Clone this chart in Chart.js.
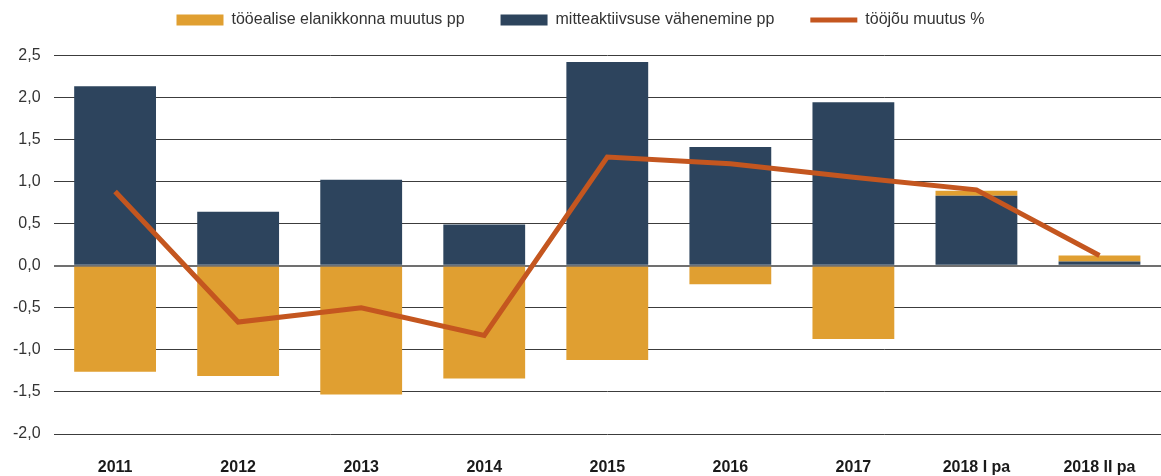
<!DOCTYPE html>
<html>
<head>
<meta charset="utf-8">
<script src="https://cdn.jsdelivr.net/npm/chart.js@4"></script>
<style>
  html, body { margin: 0; padding: 0; background: #fff; overflow: hidden; }
  canvas { display: block; }
</style>
</head>
<body>
<canvas id="chart" width="1161" height="476"></canvas>
<script>
// --- Andmed ---
const categories = ['2011', '2012', '2013', '2014', '2015', '2016', '2017', '2018 I pa', '2018 II pa'];
const workingAgeChange = [-1.26, -1.31, -1.53, -1.34, -1.12, -0.22, -0.87, 0.06, 0.07];
const inactivityDecrease = [2.13, 0.64, 1.02, 0.49, 2.42, 1.41, 1.94, 0.83, 0.05];
const laborForceChange = [0.88, -0.67, -0.50, -0.83, 1.29, 1.21, 1.05, 0.90, 0.12];
const yTicks = [-2.0, -1.5, -1.0, -0.5, 0.0, 0.5, 1.0, 1.5, 2.0, 2.5];

const ORANGE = '#E09F31';
const NAVY = '#2D445D';
const RUST = '#C4561F';
const FONT = "'Liberation Sans', Arial, sans-serif";

// legendi järjekord: oranž, tumesinine, joon
const legendRank = { 1: 0, 0: 1, 2: 2 };

new Chart(document.getElementById('chart'), {
  data: {
    labels: categories,
    datasets: [
      {
        type: 'bar',
        label: 'mitteaktiivsuse vähenemine pp',
        data: inactivityDecrease,
        backgroundColor: NAVY,
        borderWidth: 0,
        stack: 'bars',
        pointStyle: 'rect',
        order: 2
      },
      {
        type: 'bar',
        label: 'tööealise elanikkonna muutus pp',
        data: workingAgeChange,
        backgroundColor: ORANGE,
        borderWidth: 0,
        stack: 'bars',
        pointStyle: 'rect',
        order: 2
      },
      {
        type: 'line',
        label: 'tööjõu muutus %',
        data: laborForceChange,
        borderColor: RUST,
        backgroundColor: RUST,
        borderWidth: 5,
        pointRadius: 0,
        tension: 0,
        stack: 'line',
        pointStyle: 'line',
        order: 1
      }
    ]
  },
  options: {
    responsive: false,
    animation: false,
    layout: { padding: { left: 0, right: 0, top: -24, bottom: 0 } },
    datasets: {
      bar: { categoryPercentage: 1, barPercentage: 0.665 }
    },
    scales: {
      x: {
        stacked: true,
        grid: { display: false, drawTicks: false },
        border: { display: false },
        afterFit: (scale) => { scale.height = 42; },
        ticks: {
          color: '#1a1a1a',
          font: { family: FONT, size: 16, weight: 'bold' },
          padding: 24,
          maxRotation: 0
        }
      },
      y: {
        stacked: true,
        min: -2.0,
        max: 2.5,
        afterBuildTicks: (axis) => {
          axis.ticks = yTicks.map(v => ({ value: v }));
        },
        grid: {
          color: (ctx) => ctx.tick && ctx.tick.value === 0 ? '#707070' : '#3c3c3c',
          lineWidth: (ctx) => ctx.tick && ctx.tick.value === 0 ? 2 : 1,
          drawTicks: false
        },
        border: { display: false },
        ticks: {
          color: '#333',
          font: { family: FONT, size: 16 },
          padding: 13,
          callback: (v) => Number(v).toFixed(1).replace('.', ',')
        }
      }
    },
    plugins: {
      tooltip: { enabled: false },
      legend: {
        position: 'top',
        labels: {
          color: '#333',
          font: { family: FONT, size: 16 },
          usePointStyle: true,
          pointStyleWidth: 47,
          boxHeight: 11,
          padding: 36,
          sort: (a, b) => legendRank[a.datasetIndex] - legendRank[b.datasetIndex]
        }
      },
      // tühi vahe legendi ja joonise vahel
      subtitle: {
        display: true,
        text: '',
        weight: 500,
        font: { size: 1 },
        padding: { top: 16, bottom: 0 }
      }
    }
  }
});
</script>
</body>
</html>
